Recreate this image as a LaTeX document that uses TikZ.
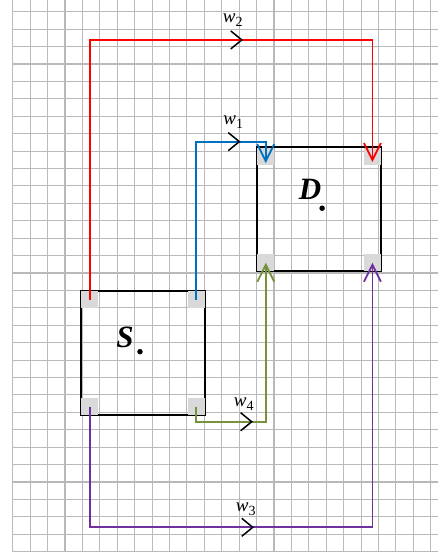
\documentclass[tikz,border=0pt]{standalone}
\usepackage{fontspec}
\setmainfont{Liberation Serif}
\usetikzlibrary{arrows.meta}

\definecolor{gridgray}{RGB}{185,185,185}
\definecolor{wred}{RGB}{255,0,0}
\definecolor{wblue}{RGB}{0,112,192}
\definecolor{wgreen}{RGB}{118,146,60}
\definecolor{wpurple}{RGB}{112,48,160}

\newcommand\wsub[1]{\textit{w}\raisebox{-4pt}{\fontsize{14}{14}\selectfont #1}}

\begin{document}
\begin{tikzpicture}[x=17.42pt, y=17.42pt, >={Straight Barb[length=17pt, width=17pt]},
    gridline/.style={gridgray, line width=1.1pt},
    box/.style={draw, line width=1.9pt, minimum size=124pt, inner sep=0pt},
    cornersq/.style={fill=black!15, minimum size=17pt, inner sep=0pt},
    flow/.style={line width=1.8pt},
    chev/.style={line width=1.5pt},
    wlabel/.style={font=\fontsize{19}{19}\selectfont, inner sep=0pt},
    boxname/.style={font=\fontsize{31}{31}\selectfont\bfseries\itshape, inner sep=0pt},
    centerdot/.style={circle, fill, minimum size=5.5pt, inner sep=0pt}]

    % Raster
    \useasboundingbox (-0.729,-31.19) rectangle (24.41,0.672);
    \clip (-0.729,-31.19) rectangle (24.41,0.672);
    \draw[gridline, step=1] (0,-31) grid (25,1);

    % Bloky S a D
    \node[box] (S) at (7.48,-19.61) {};
    \node[box] (D) at (17.59,-11.35) {};
    \foreach \b in {S,D} {
        \node[cornersq, anchor=north west] (\b1) at ([xshift=.9pt,yshift=-.9pt]\b.north west) {};
        \node[cornersq, anchor=north east] (\b2) at ([xshift=-.9pt,yshift=-.9pt]\b.north east) {};
        \node[cornersq, anchor=south west] (\b3) at ([xshift=.9pt,yshift=.9pt]\b.south west) {};
        \node[cornersq, anchor=south east] (\b4) at ([xshift=-.9pt,yshift=.9pt]\b.south east) {};
    }
    \node[boxname] (Sname) at ([xshift=-18pt,yshift=16pt]S.center) {S};
    \node[centerdot] (Sdot) at ([xshift=-3pt,yshift=1.6pt]S.center) {};
    \node[boxname] (Dname) at ([xshift=-9pt,yshift=20.5pt]D.center) {D};
    \node[centerdot] (Ddot) at ([xshift=3pt,yshift=1.2pt]D.center) {};

    % Znacky smeru
    \coordinate (m1) at (13.01,-7.46);
    \coordinate (m2) at (13.15,-1.62);
    \coordinate (m3) at (13.78,-29.60);
    \coordinate (m4) at (13.72,-23.54);

    % Cesty w1..w4
    \draw[flow, wblue, ->] (S2.center) |- (m1) -| ([yshift=-7pt]D1.center);
    \draw[flow, wred, ->] (S1.center) |- (m2) -| ([yshift=-6pt]D2.center);
    \draw[flow, wpurple, ->] (S3.center) |- (m3) -| (D4.center);
    \draw[flow, wgreen, ->] (S4.center) |- (m4) -| (D3.center);

    \foreach \m in {m1,m2,m3,m4}
        \draw[chev] ([xshift=-11pt,yshift=9pt]\m) -- (\m) -- ([xshift=-11pt,yshift=-9pt]\m);

    \node[wlabel] (w1) at ([xshift=-6pt,yshift=20pt]m1) {\wsub{1}};
    \node[wlabel] (w2) at ([xshift=-9pt,yshift=20pt]m2) {\wsub{2}};
    \node[wlabel] (w3) at ([xshift=-7pt,yshift=18pt]m3) {\wsub{3}};
    \node[wlabel] (w4) at ([xshift=-8pt,yshift=18pt]m4) {\wsub{4}};

\end{tikzpicture}
\end{document}
